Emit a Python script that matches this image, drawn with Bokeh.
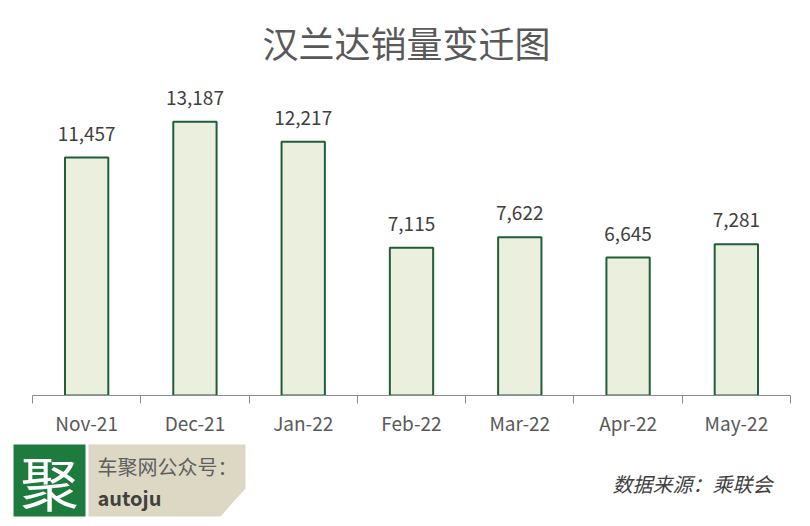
from bokeh.plotting import figure
from bokeh.models import ColumnDataSource, LabelSet, Range1d, FixedTicker
from bokeh.layouts import column
from bokeh.core.properties import value
from bokeh.embed import file_html
from bokeh.resources import INLINE

months = ["Nov-21", "Dec-21", "Jan-22", "Feb-22", "Mar-22", "Apr-22", "May-22"]
sales = [11457, 13187, 12217, 7115, 7622, 6645, 7281]
sales_labels = ["{:,}".format(v) for v in sales]
title_text = "汉兰达销量变迁图"
source_text = "数据来源：乘联会"
brand_line1 = "车聚网公众号："
brand_line2 = "autoju"
logo_char = "聚"

FONT = "Noto Sans CJK SC"

xs = [i + 0.5 for i in range(len(months))]
src = ColumnDataSource(dict(x=xs, y=sales, label=sales_labels))

p = figure(width=810, height=438, output_backend="svg", toolbar_location=None,
           x_range=Range1d(0, len(months)), y_range=Range1d(0, 15170),
           min_border_left=32, min_border_right=20, min_border_top=78, min_border_bottom=43,
           y_axis_type=None, frame_align=False)
p.outline_line_color = None
p.grid.grid_line_color = None
p.background_fill_color = "white"
p.border_fill_color = "white"

p.title.text = title_text
p.title.align = "left"
p.title.offset = 230
p.title.text_font = FONT
p.title.text_font_size = "36px"
p.title.text_font_style = "normal"
p.title.text_color = "#595959"
p.title.standoff = 26

p.vbar(x="x", top="y", width=0.4, source=src, fill_color="#EBF0DE",
       line_color="#1F5F38", line_width=2)

labels = LabelSet(x="x", y="y", text="label", source=src, text_align="center",
                  text_baseline="bottom", y_offset=17, text_font=value(FONT),
                  text_font_size="19px", text_color="#404040")
p.add_layout(labels)

ax = p.xaxis[0]
ax.ticker = FixedTicker(ticks=xs, minor_ticks=list(range(len(months) + 1)))
ax.major_label_overrides = {x: m for x, m in zip(xs, months)}
ax.major_tick_line_color = None
ax.major_tick_out = 0
ax.major_tick_in = 0
ax.minor_tick_line_color = "#8c8c8c"
ax.minor_tick_in = 0
ax.minor_tick_out = 8
ax.axis_line_color = "#8c8c8c"
ax.major_label_standoff = 5
ax.major_label_text_font = FONT
ax.major_label_text_font_size = "19px"
ax.major_label_text_color = "#595959"

# footer (coordinates are page pixels)
f = figure(width=810, height=88, output_backend="svg", toolbar_location=None,
           x_range=Range1d(0, 810), y_range=Range1d(526, 438),
           x_axis_type=None, y_axis_type=None, frame_align=False,
           min_border=0, min_border_left=0, min_border_right=0,
           min_border_top=0, min_border_bottom=0)
f.outline_line_color = None
f.grid.grid_line_color = None

f.quad(left=[13], right=[85], top=[444], bottom=[516], fill_color="#1E7B3E", line_color=None)
f.patch(x=[88, 245, 245, 220, 88], y=[444, 444, 488, 516, 516], fill_color="#DCD8C4", line_color=None)
f.text(x=[49], y=[480], text=[logo_char], text_align="center", text_baseline="middle",
       text_font=value(FONT), text_font_size="58px", text_color="white")
f.text(x=[97], y=[466], text=[brand_line1], text_align="left", text_baseline="middle",
       text_font=value(FONT), text_font_size="20px", text_color="#5f5f5f")
f.text(x=[97], y=[497], text=[brand_line2], text_align="left", text_baseline="middle",
       text_font=value(FONT), text_font_size="20px", text_font_style="bold", text_color="#404040")
f.text(x=[612], y=[483], text=[source_text], text_align="left", text_baseline="middle",
       text_font=value(FONT), text_font_size="20px", text_font_style="italic", text_color="#404040")

layout = column(p, f, spacing=0)
open("out.html", "w").write(file_html(layout, INLINE))
